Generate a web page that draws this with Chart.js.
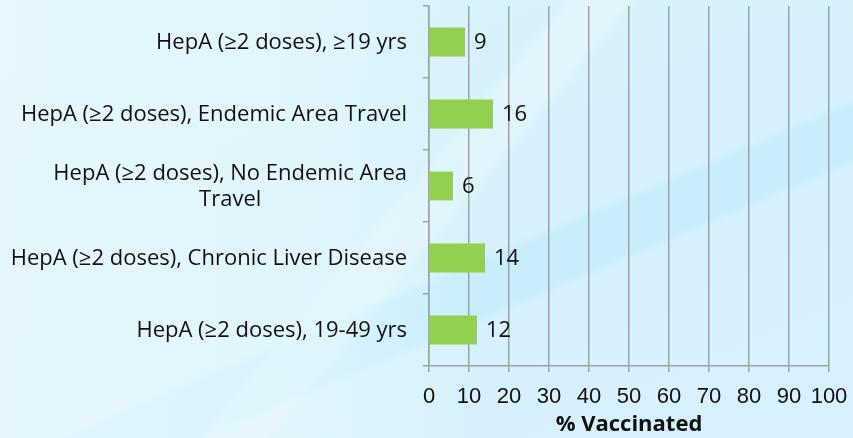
<!DOCTYPE html>
<html>
<head>
<meta charset="utf-8">
<script src="https://cdn.jsdelivr.net/npm/chart.js@4.4.1/dist/chart.umd.min.js"></script>
<style>
  html, body { margin: 0; padding: 0; }
  body {
    width: 853px; height: 438px; overflow: hidden;
    background:
      linear-gradient(90deg, rgba(234,249,254,0.75) 0%, rgba(234,249,254,0.45) 40%, rgba(234,249,254,0) 56%),
      linear-gradient(130deg, rgba(255,255,255,0) 46%, rgba(255,255,255,0.22) 47%, rgba(255,255,255,0.22) 51.6%, rgba(255,255,255,0) 52.6%),
      linear-gradient(157deg, #d9f2fc 0%, #d6f1fb 57.5%, #c8eefb 58.5%, #c8eefb 65%, #d6f1fb 66%, #d7f2fc 100%);
  }
  #wrap { position: relative; width: 853px; height: 438px; }
</style>
</head>
<body>
<div id="wrap"><canvas id="barChart" width="853" height="438"></canvas></div>
<script>
const categories = [
  "HepA (\u22652 doses), \u226519 yrs",
  "HepA (\u22652 doses), Endemic Area Travel",
  ["HepA (\u22652 doses), No Endemic Area", "Travel"],
  "HepA (\u22652 doses), Chronic Liver Disease",
  "HepA (\u22652 doses), 19-49 yrs"
];
const vaccinated = [9, 16, 6, 14, 12];
const xTicks = [0, 10, 20, 30, 40, 50, 60, 70, 80, 90, 100];
const axisTitle = "% Vaccinated";

const labelFont = "22px 'Open Sans'";

// category labels drawn by hand so the wrapped one is centred like the original
const yLabels = {
  id: 'yLabels',
  afterDraw(chart) {
    const ctx = chart.ctx;
    const y = chart.scales.y;
    ctx.save();
    ctx.font = labelFont;
    ctx.fillStyle = '#111';
    ctx.textBaseline = 'middle';
    ctx.textAlign = 'center';
    const right = y.right - 22;
    categories.forEach((lab, i) => {
      const lines = Array.isArray(lab) ? lab : [lab];
      const w = Math.max(...lines.map(l => ctx.measureText(l).width));
      const cy = y.getPixelForValue(i);
      lines.forEach((l, j) => {
        ctx.fillText(l, right - w / 2, cy + 1 + (j - (lines.length - 1) / 2) * 26);
      });
    });
    ctx.restore();
  }
};

// value next to each bar
const valueLabels = {
  id: 'valueLabels',
  afterDatasetsDraw(chart) {
    const ctx = chart.ctx;
    const meta = chart.getDatasetMeta(0);
    ctx.save();
    ctx.font = labelFont;
    ctx.fillStyle = '#111';
    ctx.textBaseline = 'middle';
    ctx.textAlign = 'left';
    meta.data.forEach((bar, i) => {
      ctx.fillText(vaccinated[i], bar.x + 9, bar.y + 1);
    });
    ctx.restore();
  }
};

const chart = new Chart(document.getElementById('barChart'), {
  type: 'bar',
  data: {
    labels: categories,
    datasets: [{
      data: vaccinated,
      backgroundColor: '#92D050',
      barPercentage: 0.4,
      categoryPercentage: 1
    }]
  },
  options: {
    indexAxis: 'y',
    responsive: false,
    animation: false,
    layout: { padding: { top: 6, right: 24, left: 0, bottom: 0 } },
    plugins: {
      legend: { display: false },
      tooltip: { enabled: false }
    },
    scales: {
      x: {
        min: 0,
        max: 100,
        afterBuildTicks: (s) => { s.ticks = xTicks.map(v => ({ value: v })); },
        afterFit: (s) => {
          s.height = 72;
          s.paddingLeft = 0;
          s.paddingRight = 0;
        },
        grid: { color: '#9ea2a6', lineWidth: 1.5, tickLength: 6, drawTicks: true },
        border: { color: '#9ea2a6', width: 1.5 },
        ticks: {
          color: '#111',
          padding: 12,
          maxRotation: 0,
          minRotation: 0,
          autoSkip: false,
          font: { family: 'Liberation Sans', size: 22 }
        },
        title: {
          display: true,
          text: axisTitle,
          color: '#111',
          font: { family: 'Open Sans', size: 22, weight: 'bold' },
          padding: { top: 0, bottom: 0 }
        }
      },
      y: {
        afterFit: (s) => { s.width = 429; },
        grid: { drawOnChartArea: false, color: '#9ea2a6', lineWidth: 1.5, tickLength: 6, offset: true },
        border: { color: '#9ea2a6', width: 1.5 },
        ticks: { display: false }
      }
    }
  },
  plugins: [yLabels, valueLabels]
});
</script>
</body>
</html>
